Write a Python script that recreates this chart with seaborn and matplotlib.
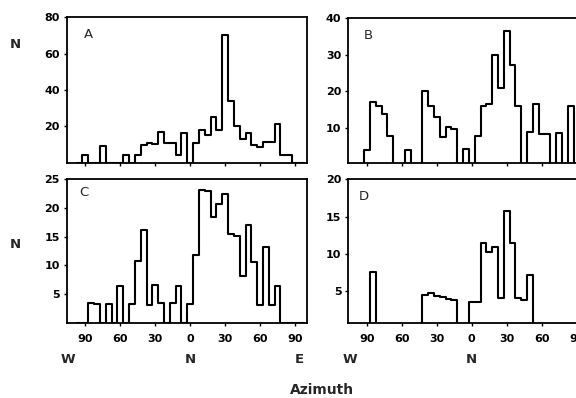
import numpy as np
import pandas as pd
import matplotlib
matplotlib.use("Agg")
import matplotlib.pyplot as plt
import matplotlib.transforms as mtransforms
import seaborn as sns

# ---- data: counts per 5-degree azimuth bin (bin centres -90..90) ----
centers = list(range(-90, 95, 5))

counts_A = [4, 0, 0, 9, 0, 0, 0, 4, 0, 4, 9.5, 11, 10, 17, 11, 11, 4, 16, 0,
            11, 18, 15, 25, 18, 70, 34, 20, 13, 16, 9.5, 8.5, 11.5, 11.5, 21, 4, 4, 0]
counts_B = [4, 17, 16, 14, 8, 0, 0, 4, 0, 0, 20, 16, 13, 7.7, 10.3, 9.7, 0, 4.3, 0,
            8, 16, 16.6, 30, 21, 36.3, 27.3, 16, 0, 9, 16.6, 8.5, 8.5, 0, 8.6, 0, 16, 0]
counts_C = [0, 3.4, 3.2, 0, 3.2, 0, 6.3, 0, 3.2, 10.8, 16.2, 3.1, 6.6, 3.4, 0, 3.4, 6.3, 0,
            3.2, 11.8, 23.1, 23.0, 18.4, 20.7, 22.4, 15.5, 15.1, 8.2, 17.0, 10.6, 3.1, 13.2,
            3.1, 6.4, 0, 0, 0]
counts_D = [0, 7.6, 0, 0, 0, 0, 0, 0, 0, 0, 4.5, 4.8, 4.3, 4.2, 3.9, 3.8, 0, 0, 3.5,
            3.5, 11.4, 10.2, 10.9, 4.1, 15.8, 11.4, 4.1, 3.8, 7.2, 0, 0, 0, 0, 0, 0, 0, 0]

panel_labels = ["A", "B", "C", "D"]
xtick_vals = [-90, -60, -30, 0, 30, 60, 90]
xtick_labels = ["90", "60", "30", "0", "30", "60", "90"]
yticks = {"A": [20, 40, 60, 80], "B": [10, 20, 30, 40],
          "C": [5, 10, 15, 20, 25], "D": [5, 10, 15, 20]}
ylims = {"A": (0, 80), "B": (0.7, 40), "C": (0, 25), "D": (0.8, 20)}
compass = [(-105, "W"), (0, "N"), (93.5, "E")]

sns.set_theme(style="white")
plt.rcParams["font.family"] = ["DejaVu Sans"]

W, H = 576, 398
fig = plt.figure(figsize=(W / 100, H / 100), dpi=100)


def rect(l, t, r, b):
    return [l / W, 1 - b / H, (r - l) / W, (b - t) / H]


rects = {"A": rect(66.7, 17.3, 306.7, 162.5),
         "B": rect(348.3, 17.8, 588.3, 162.5),
         "C": rect(66.7, 179.3, 306.7, 322.5),
         "D": rect(348.3, 179.3, 588.3, 322.5)}
letter_pos = {"A": (0.09, 0.88), "B": (0.085, 0.88), "C": (0.072, 0.905), "D": (0.063, 0.88)}
data = {"A": counts_A, "B": counts_B, "C": counts_C, "D": counts_D}

for name in panel_labels:
    ax = fig.add_axes(rects[name])
    df = pd.DataFrame({"az": centers, "n": data[name]})
    sns.histplot(data=df, x="az", weights="n", binwidth=5, binrange=(-97.5, 97.5),
                 element="step", fill=False, color="black", linewidth=1.5, ax=ax)
    ax.set_xlim(-106, 100)
    ax.set_ylim(*ylims[name])
    ax.set_yticks(yticks[name])
    ax.set_xticks(xtick_vals)
    ax.set_xlabel("")
    ax.set_ylabel("")
    for s in ax.spines.values():
        s.set_visible(True)
        s.set_color("black")
        s.set_linewidth(1.3)
    ax.tick_params(axis="both", which="both", direction="out", length=2.5, width=1.0,
                   colors="black", bottom=True, left=True, top=False, right=False)
    ax.tick_params(axis="y", pad=2.5, labelsize=8)
    for t in ax.get_yticklabels():
        t.set_fontweight("bold")
    if name in ("C", "D"):
        ax.set_xticklabels(xtick_labels, fontsize=8, fontweight="bold")
        ax.tick_params(axis="x", pad=5.5)
        trans = mtransforms.blended_transform_factory(ax.transData, ax.transAxes)
        for xv, lab in compass:
            ax.text(xv, -0.26, lab, transform=trans, ha="center", va="center",
                    fontsize=9.5, fontweight="bold")
    else:
        ax.set_xticklabels([])
    lx, ly = letter_pos[name]
    ax.text(lx, ly, name, transform=ax.transAxes, ha="center", va="center",
            fontsize=9.5)

fig.text(15 / W, 1 - 45 / H, "N", ha="center", va="center", fontsize=9.5, fontweight="bold")
fig.text(15 / W, 1 - 245 / H, "N", ha="center", va="center", fontsize=9.5, fontweight="bold")
fig.text(322 / W, 1 - 390 / H, "Azimuth", ha="center", va="center", fontsize=10,
         fontweight="bold")

fig.savefig("out.png", dpi=100)
